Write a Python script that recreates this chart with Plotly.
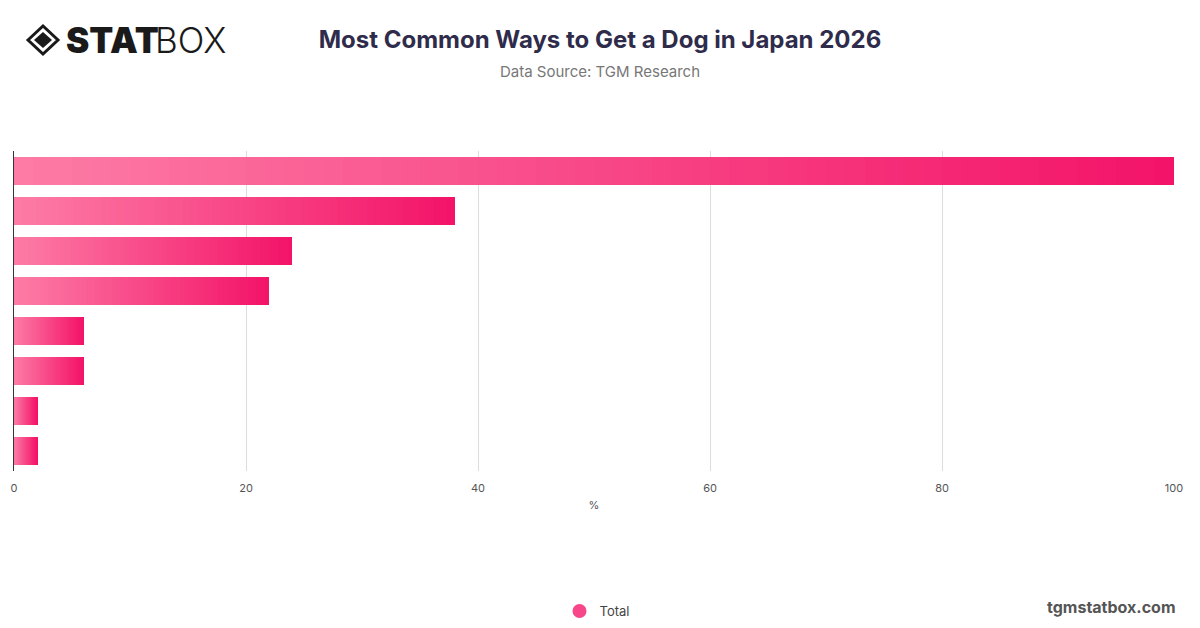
import plotly.graph_objects as go

# values in percent (top to bottom)
categories = ['Pet shop', 'Breeder', 'Friends or relatives', 'Animal shelter',
              'Online', 'Found a stray', 'Veterinarian', 'Other']
values = [100, 38, 24, 22, 6, 6, 2, 2]
x_ticks = [0, 20, 40, 60, 80, 100]
series_name = 'Total'

W, H = 1200, 628
OFF = 8  # page body margin
# plot area in page pixels: x 14..1174, y 151..471
L, R, T, B = 14 - OFF, W - (1174 - OFF), 151 - OFF, H - (471 - OFF)


def px_x(p):
    return (p - OFF - L) / (W - L - R)


def px_y(p):
    return (H - B - (p - OFF)) / (H - T - B)


def cy(p):
    return 1 - (p - OFF) / H


# gradient colours for each bar (light at the left, deep pink at the end)
c0 = (253, 124, 166)
c1 = (243, 19, 104)
N = 60


def mix(t):
    return 'rgb({},{},{})'.format(*[round(a + (b - a) * t) for a, b in zip(c0, c1)])


fig = go.Figure()
for k in range(N):
    fig.add_trace(go.Bar(
        x=[v / N for v in values],
        y=categories,
        orientation='h',
        marker=dict(color=mix((k + 0.5) / N), line=dict(width=0)),
        width=0.7,
        showlegend=False,
        hoverinfo='skip'
    ))

# legend entry (round marker)
fig.add_trace(go.Scatter(
    x=[None], y=[None], mode='markers', name=series_name,
    marker=dict(size=14, color='#f7478a', symbol='circle')
))

fig.update_layout(
    width=W, height=H,
    barmode='stack',
    bargap=0.3,
    plot_bgcolor='white',
    paper_bgcolor='white',
    margin=dict(l=L, r=R, t=T, b=B, autoexpand=False),
    font=dict(family='Inter, Roboto, sans-serif', color='#555'),
    title=dict(
        text='<b>Most Common Ways to Get a Dog in Japan 2026</b>',
        x=px_x(600), xref='paper', xanchor='center', y=cy(40), yanchor='middle',
        font=dict(size=24, color='#2f2c4b')
    ),
    xaxis=dict(
        range=[0, 100],
        tickvals=x_ticks,
        showgrid=True, gridcolor='#dcdcdc', gridwidth=1,
        zeroline=False,
        ticks='outside', ticklen=7, tickcolor='rgba(0,0,0,0)',
        tickfont=dict(size=11, color='#555'),
        title=dict(text='%', font=dict(size=11, color='#555'), standoff=7),
        automargin=False,
        fixedrange=True
    ),
    yaxis=dict(
        autorange='reversed',
        showticklabels=False,
        showline=True, linecolor='#333', linewidth=1,
        ticks='', showgrid=False, automargin=False
    ),
    legend=dict(
        orientation='h', xref='paper', x=px_x(597), xanchor='center',
        yref='container', y=cy(611), yanchor='middle',
        font=dict(size=13, color='#444')
    ),
    annotations=[
        dict(text='Data Source: TGM Research', xref='paper', yref='paper',
             x=px_x(600), y=px_y(71),
             showarrow=False, font=dict(size=15, color='#777'),
             xanchor='center', yanchor='middle'),
        dict(text='STAT', xref='paper', yref='paper',
             x=px_x(64), y=px_y(40), showarrow=False, xanchor='left', yanchor='middle',
             font=dict(size=35, color='#1a1a1a', weight=900, family='Inter, Roboto, sans-serif')),
        dict(text='BOX', xref='paper', yref='paper',
             x=px_x(153), y=px_y(40), showarrow=False, xanchor='left', yanchor='middle',
             font=dict(size=35, color='#1a1a1a', weight=300, family='Inter, Roboto, sans-serif')),
        dict(text='<b>tgmstatbox.com</b>', xref='paper', yref='paper',
             x=px_x(1178), y=px_y(607), showarrow=False, xanchor='right', yanchor='middle',
             font=dict(size=16, color='#555')),
    ],
    shapes=[
        # logo diamond outline and inner diamond
        dict(type='path', xref='paper', yref='paper',
             path='M {} {} L {} {} L {} {} L {} {} Z'.format(
                 px_x(28), px_y(40), px_x(43), px_y(26), px_x(58), px_y(40), px_x(43), px_y(54)),
             line=dict(color='#1a1a1a', width=3), fillcolor='rgba(0,0,0,0)'),
        dict(type='path', xref='paper', yref='paper',
             path='M {} {} L {} {} L {} {} L {} {} Z'.format(
                 px_x(34), px_y(40), px_x(43), px_y(32), px_x(52), px_y(40), px_x(43), px_y(48)),
             line=dict(width=0), fillcolor='#1a1a1a'),
    ]
)

fig.write_html("out.html")
